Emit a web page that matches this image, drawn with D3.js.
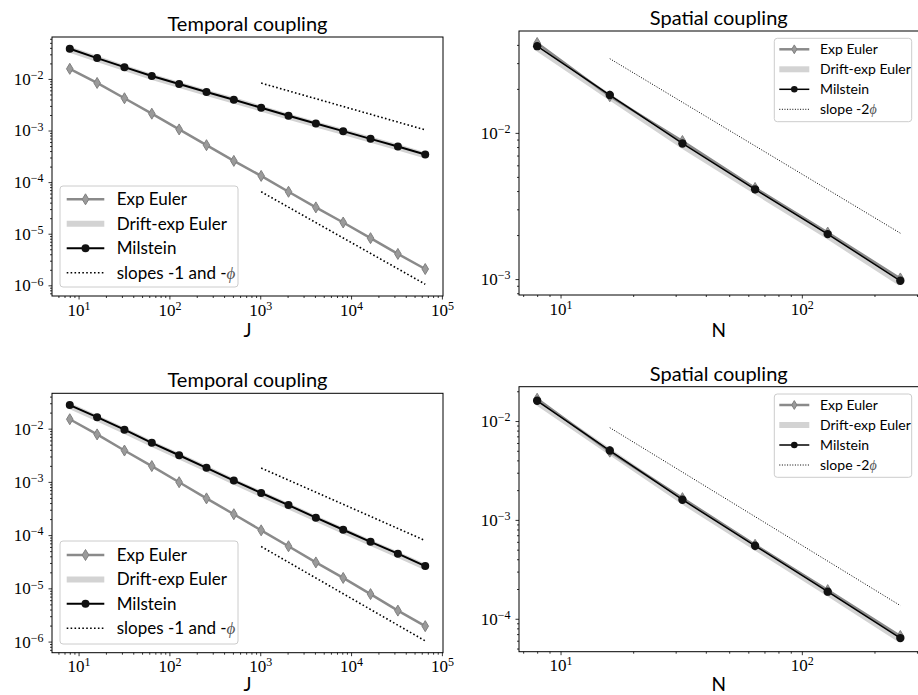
<!DOCTYPE html>
<meta charset="utf-8">
<style>
body { margin: 0; background: #fff; }
svg { display: block; }
.title, .xlabel, .legend text { font-family: Lato, sans-serif; fill: #000; }
.tick text { font-family: "Liberation Serif", serif; font-size: 17px; fill: #000; }
.tick line { stroke: #000; stroke-width: 0.8; }
</style>
<body>
<script src="https://cdnjs.cloudflare.com/ajax/libs/d3/7.8.5/d3.min.js"></script>
<script>

// x values
var J = [8, 16, 32, 64, 128, 256, 512, 1024, 2048, 4096, 8192, 16384, 32768, 65536];
var N = [8, 16, 32, 64, 128, 256];

// top-left, temporal coupling
var tempTopExp   = [0.0157, 0.00836, 0.00422, 0.00212, 0.00105, 0.00052, 0.000258, 0.000132, 6.5e-5, 3.24e-5, 1.65e-5, 8.2e-6, 4.06e-6, 2.07e-6];
var tempTopDrift = [0.0370, 0.0244, 0.0163, 0.0110, 0.0077, 0.00538, 0.00382, 0.00267, 0.00186, 0.00132, 0.000938, 0.000665, 0.000474, 0.000331];
var tempTopMil   = [0.0384, 0.0253, 0.0169, 0.0114, 0.0080, 0.00558, 0.00396, 0.00277, 0.00193, 0.00137, 0.000972, 0.000689, 0.000491, 0.000343];
var tempTopSlopeJ = [1024, 65536];
var tempTopSlopeA = [0.0083, 0.00103];
var tempTopSlopeB = [6.5e-5, 1.05e-6];

// top-right, spatial coupling
var spatTopExp   = [0.0412, 0.0178, 0.0088, 0.0042, 0.00208, 0.00101];
var spatTopDrift = [0.0380, 0.0176, 0.0082, 0.0040, 0.00197, 0.00094];
var spatTopMil   = [0.0392, 0.01815, 0.00847, 0.00411, 0.00203, 0.000973];
var spatTopSlopeN = [16, 256];
var spatTopSlope  = [0.0322, 0.00206];

// bottom-left, temporal coupling
var tempBotExp   = [0.01503, 0.0078, 0.00388, 0.00198, 0.000986, 0.00049, 0.000247, 0.000123, 6.18e-5, 3.07e-5, 1.57e-5, 7.8e-6, 3.82e-6, 1.95e-6];
var tempBotDrift = [0.0265, 0.0157, 0.00915, 0.00518, 0.00302, 0.00176, 0.00101, 0.000591, 0.00035, 0.000204, 0.000121, 7.15e-5, 4.29e-5, 2.51e-5];
var tempBotMil   = [0.0277, 0.0164, 0.00957, 0.00542, 0.00316, 0.00184, 0.00106, 0.000618, 0.000366, 0.000213, 0.000126, 7.47e-5, 4.48e-5, 2.62e-5];
var tempBotSlopeJ = [1024, 65536];
var tempBotSlopeA = [0.00182, 7.9e-5];
var tempBotSlopeB = [6.1e-5, 1.03e-6];

// bottom-right, spatial coupling
var spatBotExp   = [0.0168, 0.0049, 0.00166, 0.00056, 0.000195, 6.7e-5];
var spatBotDrift = [0.0155, 0.0049, 0.00155, 0.00053, 0.000182, 6.15e-5];
var spatBotMil   = [0.01603, 0.00503, 0.0016, 0.000547, 0.000188, 6.38e-5];
var spatBotSlopeN = [16, 256];
var spatBotSlope  = [0.00857, 0.000136];

var seriesNames = ["Exp Euler", "Drift-exp Euler", "Milstein"];
var tempSlopeName = "slopes -1 and -";
var spatSlopeName = "slope -2";

var width = 918, height = 695;

var svg = d3.select("body").append("svg")
    .attr("width", width)
    .attr("height", height);

var temporalStyle = {expW: 2.5, milW: 2, driftW: 6, dotW: 1.6, dash: "1.6,2.3", r: 4, dw: 3.3, dh: 5.5};
var spatialStyle  = {expW: 2.5, milW: 1.5, driftW: 6, dotW: 1, dash: "1,1.6", r: 4.2, dw: 3.3, dh: 5.5};

var panels = [
  {title: "Temporal coupling", xlabel: "J", x: J, exp: tempTopExp, drift: tempTopDrift, mil: tempTopMil,
   slopes: [[tempTopSlopeJ, tempTopSlopeA], [tempTopSlopeJ, tempTopSlopeB]], slopeName: tempSlopeName, slopeSym: "\u03d5",
   box: {left: 52, right: 443, top: 37, bottom: 296}, xlabY: 337, st: temporalStyle,
   legend: {x: 60, y: 186, w: 178, h: 101, row0: 13.3, step: 24.5, hx: 6.7, hl: 37.6, tx: 56.7, fs: 17, mr: 4, mdw: 3.3, mdh: 5.5}},
  {title: "Spatial coupling", xlabel: "N", x: N, exp: spatTopExp, drift: spatTopDrift, mil: spatTopMil,
   slopes: [[spatTopSlopeN, spatTopSlope]], slopeName: spatSlopeName, slopeSym: "\u03d5",
   box: {left: 519, right: 918.5, top: 31, bottom: 295}, xlabY: 337, st: spatialStyle,
   legend: {x: 774.3, y: 38.3, w: 137.4, h: 83.4, row0: 11, step: 20, hx: 5, hl: 30, tx: 45.7, fs: 14, mr: 3.3, mdw: 2.6, mdh: 4.4}},
  {title: "Temporal coupling", xlabel: "J", x: J, exp: tempBotExp, drift: tempBotDrift, mil: tempBotMil,
   slopes: [[tempBotSlopeJ, tempBotSlopeA], [tempBotSlopeJ, tempBotSlopeB]], slopeName: tempSlopeName, slopeSym: "\u03d5",
   box: {left: 52, right: 443, top: 393.3, bottom: 652.7}, xlabY: 691, st: temporalStyle,
   legend: {x: 60, y: 541, w: 178, h: 103, row0: 14, step: 24.4, hx: 6.7, hl: 37.6, tx: 56.7, fs: 17, mr: 4, mdw: 3.3, mdh: 5.5}},
  {title: "Spatial coupling", xlabel: "N", x: N, exp: spatBotExp, drift: spatBotDrift, mil: spatBotMil,
   slopes: [[spatBotSlopeN, spatBotSlope]], slopeName: spatSlopeName, slopeSym: "\u03d5",
   box: {left: 519, right: 918.5, top: 386.7, bottom: 651.7}, xlabY: 691, st: spatialStyle,
   legend: {x: 774.3, y: 394, w: 137.4, h: 83.3, row0: 11, step: 20, hx: 5, hl: 30, tx: 45.7, fs: 14, mr: 3.3, mdw: 2.6, mdh: 4.4}}
];

// log domain with 5% margins like matplotlib
function logDomain(vals) {
  var lo = Math.log10(d3.min(vals)), hi = Math.log10(d3.max(vals));
  var pad = (hi - lo) * 0.05;
  return [Math.pow(10, lo - pad), Math.pow(10, hi + pad)];
}

function majorTicks(dom) {
  var out = [];
  for (var e = Math.floor(Math.log10(dom[0])); e <= Math.ceil(Math.log10(dom[1])); e++) {
    var v = Math.pow(10, e);
    if (v >= dom[0] && v <= dom[1]) out.push(v);
  }
  return out;
}

function minorTicks(dom) {
  var out = [];
  for (var e = Math.floor(Math.log10(dom[0])); e <= Math.ceil(Math.log10(dom[1])); e++) {
    for (var k = 2; k <= 9; k++) {
      var v = k * Math.pow(10, e);
      if (v >= dom[0] && v <= dom[1]) out.push(v);
    }
  }
  return out;
}

function powLabels(g) {
  g.selectAll(".tick text").each(function(d) {
    var t = d3.select(this), e = Math.round(Math.log10(d));
    t.text(null);
    t.append("tspan").text("10");
    t.append("tspan").attr("dy", "-0.48em").style("font-size", "12px")
      .text(e < 0 ? "\u2212" + (-e) : e);
  });
}

function diamond(w, h) {
  return "M0," + (-h) + "L" + w + ",0L0," + h + "L" + (-w) + ",0Z";
}

function drawPanel(p) {
  var b = p.box, st = p.st;
  var allY = p.exp.concat(p.drift, p.mil);
  p.slopes.forEach(function(s) { allY = allY.concat(s[1]); });

  var x = d3.scaleLog().domain(logDomain(p.x)).range([b.left, b.right]);
  var y = d3.scaleLog().domain(logDomain(allY)).range([b.bottom, b.top]);

  var g = svg.append("g");

  // axes: minor then major ticks
  g.append("g").attr("transform", "translate(0," + b.bottom + ")")
    .call(d3.axisBottom(x).tickValues(minorTicks(x.domain())).tickSize(2).tickFormat(""))
    .call(function(a) { a.select(".domain").remove(); });
  g.append("g").attr("transform", "translate(0," + b.bottom + ")")
    .call(d3.axisBottom(x).tickValues(majorTicks(x.domain())).tickSize(3.5).tickPadding(4))
    .call(function(a) { a.select(".domain").remove(); })
    .call(powLabels);
  g.append("g").attr("transform", "translate(" + b.left + ",0)")
    .call(d3.axisLeft(y).tickValues(minorTicks(y.domain())).tickSize(2).tickFormat(""))
    .call(function(a) { a.select(".domain").remove(); });
  g.append("g").attr("transform", "translate(" + b.left + ",0)")
    .call(d3.axisLeft(y).tickValues(majorTicks(y.domain())).tickSize(3.5).tickPadding(5))
    .call(function(a) { a.select(".domain").remove(); })
    .call(powLabels);

  var line = d3.line().x(function(d) { return x(d[0]); }).y(function(d) { return y(d[1]); });
  var pts = function(ys) { return p.x.map(function(v, i) { return [v, ys[i]]; }); };

  // Drift-exp Euler
  g.append("path").attr("d", line(pts(p.drift)))
    .attr("fill", "none").attr("stroke", "#d3d3d3").attr("stroke-width", st.driftW);

  // Exp Euler
  g.append("path").attr("d", line(pts(p.exp)))
    .attr("fill", "none").attr("stroke", "#8a8a8a").attr("stroke-width", st.expW);
  g.selectAll(".dm").data(pts(p.exp)).enter().append("path")
    .attr("d", diamond(st.dw, st.dh))
    .attr("transform", function(d) { return "translate(" + x(d[0]) + "," + y(d[1]) + ")"; })
    .attr("fill", "#9a9a9a").attr("stroke", "#808080").attr("stroke-width", 1);

  // Milstein
  g.append("path").attr("d", line(pts(p.mil)))
    .attr("fill", "none").attr("stroke", "#000").attr("stroke-width", st.milW);
  g.selectAll(".cm").data(pts(p.mil)).enter().append("circle")
    .attr("cx", function(d) { return x(d[0]); })
    .attr("cy", function(d) { return y(d[1]); })
    .attr("r", st.r).attr("fill", "#111");

  // reference slopes
  p.slopes.forEach(function(s) {
    g.append("path").attr("d", line(s[0].map(function(v, i) { return [v, s[1][i]]; })))
      .attr("fill", "none").attr("stroke", "#000")
      .attr("stroke-width", st.dotW).attr("stroke-dasharray", st.dash);
  });

  // spines
  g.append("rect").attr("x", b.left).attr("y", b.top)
    .attr("width", b.right - b.left).attr("height", b.bottom - b.top)
    .attr("fill", "none").attr("stroke", "#000").attr("stroke-width", 1);

  // title and x label
  g.append("text").attr("class", "title").attr("x", (b.left + b.right) / 2).attr("y", b.top - 6)
    .attr("text-anchor", "middle").style("font-size", "20px").text(p.title);
  g.append("text").attr("class", "xlabel").attr("x", (b.left + b.right) / 2).attr("y", p.xlabY)
    .attr("text-anchor", "middle").style("font-size", "19px").text(p.xlabel);

  // legend
  var L = p.legend;
  var lg = g.append("g").attr("class", "legend").attr("transform", "translate(" + L.x + "," + L.y + ")");
  lg.append("rect").attr("width", L.w).attr("height", L.h).attr("rx", 3)
    .attr("fill", "#fff").attr("fill-opacity", 0.8).attr("stroke", "#cccccc").attr("stroke-width", 1);
  var names = seriesNames.concat([p.slopeName]);
  names.forEach(function(nm, i) {
    var ry = L.row0 + i * L.step, mx = L.hx + L.hl / 2;
    var h = lg.append("line").attr("x1", L.hx).attr("x2", L.hx + L.hl).attr("y1", ry).attr("y2", ry);
    if (i === 0) {
      h.attr("stroke", "#8a8a8a").attr("stroke-width", st.expW);
      lg.append("path").attr("d", diamond(L.mdw, L.mdh)).attr("transform", "translate(" + mx + "," + ry + ")")
        .attr("fill", "#9a9a9a").attr("stroke", "#808080");
    } else if (i === 1) {
      h.attr("stroke", "#d3d3d3").attr("stroke-width", st.driftW);
    } else if (i === 2) {
      h.attr("stroke", "#000").attr("stroke-width", st.milW);
      lg.append("circle").attr("cx", mx).attr("cy", ry).attr("r", L.mr).attr("fill", "#111");
    } else {
      h.attr("stroke", "#000").attr("stroke-width", st.dotW).attr("stroke-dasharray", st.dash);
    }
    var t = lg.append("text").attr("x", L.tx).attr("y", ry).attr("dy", "0.35em")
      .style("font-size", L.fs + "px").text(nm);
    if (i === 3) {
      t.append("tspan").style("font-family", "'Liberation Serif', serif").style("font-style", "italic")
        .attr("fill", "#555").text(p.slopeSym);
    }
  });
}

panels.forEach(drawPanel);

</script>
</body>
